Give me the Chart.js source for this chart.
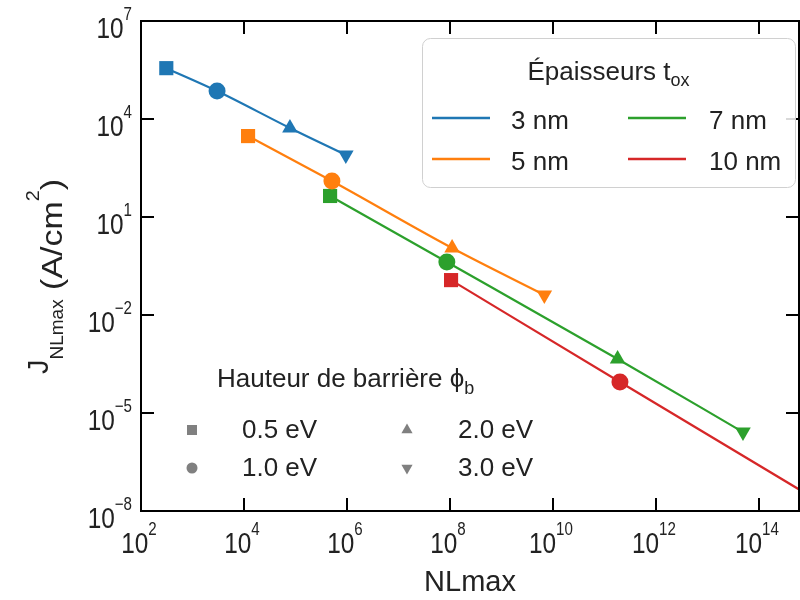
<!DOCTYPE html>
<html><head><meta charset="utf-8">
<script src="https://cdn.jsdelivr.net/npm/chart.js@4.4.1/dist/chart.umd.min.js"></script>
<style>html,body{margin:0;padding:0;background:#fff;overflow:hidden;width:800px;height:600px;}#wrap{width:800px;height:600px;position:relative;}canvas{display:block;}</style>
</head><body><div id="wrap"><canvas id="c"></canvas></div>
<script>
// ---- data ----
const thicknessLabels = ['3 nm', '5 nm', '7 nm', '10 nm'];
const barrierLabels = ['0.5 eV', '1.0 eV', '2.0 eV', '3.0 eV'];
const nl_3nm = [3.1e2, 3.0e3, 7.8e4, 9.5e5];
const j_3nm = [3.6e5, 7.2e4, 5.3e3, 7.9e2];
const nl_5nm = [1.2e4, 5.1e5, 1.1e8, 6.8e9];
const j_5nm = [3.0e3, 1.26e2, 1.12, 4.1e-2];
const nl_7nm = [4.7e5, 8.7e7, 1.8e11, 4.9e13];
const j_7nm = [44, 0.42, 4.5e-4, 2.6e-6];
const nl_10nm = [1.05e8, 2.0e11, 1.3e16, 4.0e19];
const j_10nm = [0.117, 8.9e-5, 2.5e-9, 1.3e-12];
const xTickValues = [1e2, 1e4, 1e6, 1e8, 1e10, 1e12, 1e14];
const yTickValues = [1e-8, 1e-5, 1e-2, 1e1, 1e4, 1e7];
const xMin = 1e2, xMax = 6e14, yMin = 1e-8, yMax = 1e7;

// ---- styles ----
const FONT = '"Liberation Sans", Arial, sans-serif';
const TXT = '#222222';
const colors = ['#1f77b4', '#ff7f0e', '#2ca02c', '#d62728'];
const markerStyles = ['rect', 'circle', 'triangle', 'triangle'];
const markerRot = [0, 0, 0, 180];
const markerRad = [10, 8.5, 9, 9];

function expText(v) {
  const e = Math.round(Math.log10(v));
  return String(e).replace('-', '\u2212');
}
function pts(nl, j) { return nl.map((x, i) => ({x: x, y: j[i]})); }

const seriesX = [nl_3nm, nl_5nm, nl_7nm, nl_10nm];
const seriesY = [j_3nm, j_5nm, j_7nm, j_10nm];
const datasets = seriesX.map((nl, k) => ({
  label: thicknessLabels[k],
  data: pts(nl, seriesY[k]),
  showLine: true,
  borderColor: colors[k],
  backgroundColor: colors[k],
  borderWidth: 2.2,
  pointStyle: markerStyles,
  pointRotation: markerRot,
  pointRadius: markerRad,
  pointBorderWidth: 0,
  cubicInterpolationMode: 'monotone',
  clip: 0
}));

function drawSubText(ctx, parts, x, y) {
  let cx = x;
  for (const [t, size, dy, sx] of parts) {
    const s = sx || 1;
    ctx.font = size + 'px ' + FONT;
    ctx.save();
    ctx.translate(cx, y + dy);
    ctx.scale(s, 1);
    ctx.fillText(t, 0, 0);
    ctx.restore();
    cx += ctx.measureText(t).width * s;
  }
  return cx;
}
function measureParts(ctx, parts) {
  let w = 0;
  for (const [t, size, dy, sx] of parts) { ctx.font = size + 'px ' + FONT; w += ctx.measureText(t).width * (sx || 1); }
  return w;
}

const TK_MAIN = 29, TK_EXP = 18, TK_SX = 0.84, TK_RAISE = 18;
function tickParts(v) {
  return [['10', TK_MAIN, 0, TK_SX], [expText(v), TK_EXP, -TK_RAISE, TK_SX]];
}

const framePlugin = {
  id: 'frame',
  afterDraw(chart) {
    const {ctx, chartArea: a, scales: {x, y}} = chart;
    ctx.save();
    ctx.strokeStyle = '#000';
    ctx.lineWidth = 2;
    const L = 13;
    ctx.beginPath();
    xTickValues.forEach(v => {
      const px = Math.round(x.getPixelForValue(v));
      ctx.moveTo(px, a.bottom); ctx.lineTo(px, a.bottom - L);
      ctx.moveTo(px, a.top); ctx.lineTo(px, a.top + L);
    });
    yTickValues.forEach(v => {
      const py = Math.round(y.getPixelForValue(v));
      ctx.moveTo(a.left, py); ctx.lineTo(a.left + L, py);
      ctx.moveTo(a.right, py); ctx.lineTo(a.right - L, py);
    });
    ctx.stroke();
    ctx.strokeRect(a.left, a.top, a.right - a.left, a.bottom - a.top);

    ctx.fillStyle = TXT;
    ctx.textAlign = 'left';
    ctx.textBaseline = 'alphabetic';
    xTickValues.forEach(v => {
      const px = x.getPixelForValue(v);
      const parts = tickParts(v);
      const w = measureParts(ctx, parts);
      drawSubText(ctx, parts, px - 2 - w / 2, a.bottom + 42);
    });
    yTickValues.forEach(v => {
      const py = y.getPixelForValue(v);
      const parts = tickParts(v);
      const w = measureParts(ctx, parts);
      drawSubText(ctx, parts, a.left - 9 - w, py + 17);
    });

    ctx.translate(62, 374);
    ctx.rotate(-Math.PI / 2);
    drawSubText(ctx, [['J', 29, -14, 1], ['NLmax', 19, 1, 1], [' (A/cm', 29, 0, 1.17], ['2', 18, -23, 1.1], [')', 29, 0, 1.17]], 0, 0);
    ctx.restore();
  }
};

const legendPlugin = {
  id: 'customLegends',
  afterDraw(chart) {
    const ctx = chart.ctx;
    ctx.save();
    const bx = 422.5, by = 38.5, bw = 373, bh = 149, r = 8;
    ctx.beginPath();
    ctx.moveTo(bx + r, by);
    ctx.arcTo(bx + bw, by, bx + bw, by + bh, r);
    ctx.arcTo(bx + bw, by + bh, bx, by + bh, r);
    ctx.arcTo(bx, by + bh, bx, by, r);
    ctx.arcTo(bx, by, bx + bw, by, r);
    ctx.closePath();
    ctx.fillStyle = 'rgba(255,255,255,0.85)';
    ctx.fill();
    ctx.strokeStyle = '#d0d0d0';
    ctx.lineWidth = 1;
    ctx.stroke();

    ctx.fillStyle = TXT;
    ctx.textAlign = 'left';
    ctx.textBaseline = 'alphabetic';
    const tparts = [['Épaisseurs t', 26, 0], ['ox', 18, 6]];
    const tw = measureParts(ctx, tparts);
    drawSubText(ctx, tparts, 608.5 - tw / 2, 80);

    const cols = [[432, 490, 511], [628, 686, 709]];
    const rows = [[118, 129], [159, 170]];
    thicknessLabels.forEach((lab, k) => {
      const c = cols[Math.floor(k / 2)], rr = rows[k % 2];
      ctx.strokeStyle = colors[k];
      ctx.lineWidth = 2.6;
      ctx.beginPath(); ctx.moveTo(c[0], rr[0]); ctx.lineTo(c[1], rr[0]); ctx.stroke();
      ctx.fillStyle = TXT;
      ctx.font = '26px ' + FONT;
      ctx.fillText(lab, c[2], rr[1]);
    });

    drawSubText(ctx, [['Hauteur de barrière ϕ', 26, 0], ['b', 18, 7]], 217, 387);
    const mcols = [[192, 242], [407, 458]];
    const mrows = [[430, 438], [468, 476]];
    barrierLabels.forEach((lab, k) => {
      const c = mcols[Math.floor(k / 2)], rr = mrows[k % 2];
      ctx.fillStyle = '#808080';
      const mx = c[0], my = rr[0];
      ctx.beginPath();
      if (k === 0) { ctx.rect(mx - 5, my - 5, 10, 10); }
      else if (k === 1) { ctx.arc(mx, my, 5.5, 0, Math.PI * 2); }
      else if (k === 2) { ctx.moveTo(mx, my - 6.5); ctx.lineTo(mx + 5.6, my + 3.3); ctx.lineTo(mx - 5.6, my + 3.3); ctx.closePath(); }
      else { ctx.moveTo(mx, my + 6.5); ctx.lineTo(mx + 5.6, my - 3.3); ctx.lineTo(mx - 5.6, my - 3.3); ctx.closePath(); }
      ctx.fill();
      ctx.fillStyle = TXT;
      ctx.font = '26px ' + FONT;
      ctx.fillText(lab, c[1], rr[1]);
    });
    ctx.restore();
  }
};

new Chart(document.getElementById('c'), {
  type: 'scatter',
  data: {datasets: datasets},
  options: {
    responsive: true,
    maintainAspectRatio: false,
    animation: false,
    events: [],
    layout: {autoPadding: false, padding: {top: 21, right: 1, left: 0, bottom: 0}},
    plugins: {legend: {display: false}, tooltip: {enabled: false}},
    scales: {
      x: {
        type: 'logarithmic', position: 'bottom', min: xMin, max: xMax,
        afterFit: s => { s.height = 89; s.paddingLeft = 0; s.paddingRight = 0; s.paddingTop = 0; s.paddingBottom = 0; },
        afterBuildTicks: s => { s.ticks = xTickValues.map(v => ({value: v})); },
        ticks: {display: false, autoSkip: false},
        grid: {display: false, drawTicks: false},
        border: {display: false},
        title: {display: true, text: 'NLmax', font: {family: FONT, size: 29}, color: TXT,
                padding: {top: 0, bottom: 0}}
      },
      y: {
        type: 'logarithmic', position: 'left', min: yMin, max: yMax,
        afterFit: s => { s.width = 141; s.paddingLeft = 0; s.paddingRight = 0; s.paddingTop = 0; s.paddingBottom = 0; },
        afterBuildTicks: s => { s.ticks = yTickValues.map(v => ({value: v})); },
        ticks: {display: false, autoSkip: false},
        grid: {display: false, drawTicks: false},
        border: {display: false}
      }
    }
  },
  plugins: [framePlugin, legendPlugin]
});
</script></body></html>
